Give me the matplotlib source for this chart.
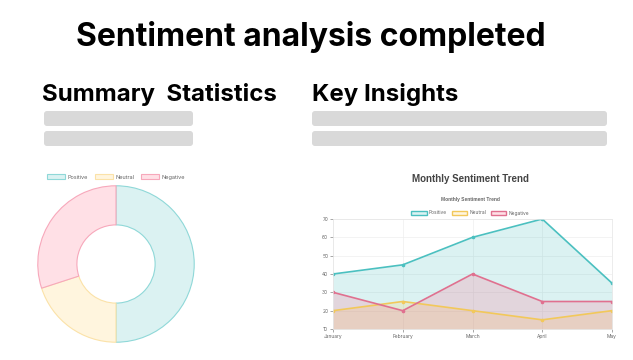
import matplotlib
matplotlib.use("Agg")
import matplotlib.pyplot as plt
from matplotlib.patches import FancyBboxPatch, Patch

W, H = 633, 360
DPI = 100

# ---------------- data ----------------
sent_labels = ["Positive", "Neutral", "Negative"]
sent_shares = [50, 20, 30]
months = ["January", "February", "March", "April", "May"]
positive = [40, 45, 60, 70, 35]
neutral = [20, 25, 20, 15, 20]
negative = [30, 20, 40, 25, 25]
y_ticks = [10, 20, 30, 40, 50, 60, 70]

line_cols = ["#4bc0c0", "#f2c85a", "#e0708f"]
fill_cols = [(75/255, 192/255, 192/255, 0.2), (255/255, 206/255, 86/255, 0.2), (255/255, 99/255, 132/255, 0.2)]
pie_edge = ["#8fd8d8", "#fbe2a8", "#f7a8bb"]
pie_fill = ["#dbf2f2", "#fff5de", "#ffe0e6"]

plt.rcParams['font.family'] = ['Inter', 'DejaVu Sans']

fig = plt.figure(figsize=(W / DPI, H / DPI), dpi=DPI)
fig.patch.set_facecolor("white")


def ax_px(x0, y0, x1, y1, **kw):
    return fig.add_axes([x0 / W, 1 - y1 / H, (x1 - x0) / W, (y1 - y0) / H], **kw)


# overlay for page text and placeholder bars
ov = ax_px(0, 0, W, H)
ov.set_xlim(0, W)
ov.set_ylim(H, 0)
ov.axis("off")

ov.text(311, 37, "Sentiment analysis completed", ha="center", va="center",
        fontsize=23, fontweight="bold", color="black")
ov.text(42, 95, "Summary  Statistics", ha="left", va="center",
        fontsize=17.3, fontweight="bold", color="black")
ov.text(312, 95, "Key Insights", ha="left", va="center",
        fontsize=17.3, fontweight="bold", color="black")

for (x0, x1) in [(44, 193), (312, 607)]:
    for y0 in [111, 131]:
        ov.add_patch(FancyBboxPatch((x0 + 3, y0 + 3), x1 - x0 - 6, 15 - 6,
                                    boxstyle="round,pad=3", fc="#d9d9d9", ec="none"))

# ---------------- donut ----------------
axd = ax_px(37, 185, 195, 343)
wedges, _ = axd.pie(sent_shares, startangle=90, counterclock=False, radius=1,
                    colors=pie_fill,
                    wedgeprops=dict(width=0.5, linewidth=0.8))
for w, ec in zip(wedges, pie_edge):
    w.set_edgecolor(ec)
axd.set_aspect("equal")
axd.set_xlim(-1.01, 1.01)
axd.set_ylim(-1.01, 1.01)

handles = [Patch(facecolor=f, edgecolor=e, linewidth=0.8) for f, e in zip(pie_fill, pie_edge)]
fig.legend(handles, sent_labels, loc="center", bbox_to_anchor=(116 / W, 1 - 177 / H),
           ncol=3, fontsize=4, frameon=False, handlelength=3.2, handleheight=1.0,
           columnspacing=1.2, handletextpad=0.5, labelcolor="#666666")

# ---------------- line chart ----------------
axl = ax_px(333, 219, 612, 329)
xs = list(range(len(months)))
for vals, lc, fc, lab in zip([positive, neutral, negative], line_cols, fill_cols, sent_labels):
    axl.fill_between(xs, vals, 10, color=fc, linewidth=0)
    axl.plot(xs, vals, color=lc, linewidth=1.2, marker="o", markersize=1.6, label=lab)
axl.set_xlim(0, len(months) - 1)
axl.set_ylim(10, 70)
axl.set_yticks(y_ticks)
axl.set_xticks(xs)
axl.set_xticklabels(months)
axl.tick_params(labelsize=3.5, colors="#666666", length=2, width=0.4, pad=1.5)
axl.grid(True, color="#eeeeee", linewidth=0.5)
axl.set_axisbelow(True)
for s in axl.spines.values():
    s.set_color("#e5e5e5")
    s.set_linewidth(0.5)

ov.text(470, 179, "Monthly Sentiment Trend", ha="center", va="center",
        fontsize=7, fontweight="bold", color="#444444", family=["Liberation Sans", "DejaVu Sans"])
ov.text(470, 200, "Monthly Sentiment Trend", ha="center", va="center",
        fontsize=3.5, fontweight="bold", color="#666666", family=["Liberation Sans", "DejaVu Sans"])
lhandles = [Patch(facecolor=f, edgecolor=c, linewidth=1.0) for f, c in zip(fill_cols, line_cols)]
fig.legend(lhandles, sent_labels, loc="center", bbox_to_anchor=(470 / W, 1 - 213 / H),
           ncol=3, fontsize=3.5, frameon=False, handlelength=3.2, handleheight=1.0,
           columnspacing=1.0, handletextpad=0.4, labelcolor="#666666")

fig.savefig("out.png", dpi=DPI, facecolor="white")
